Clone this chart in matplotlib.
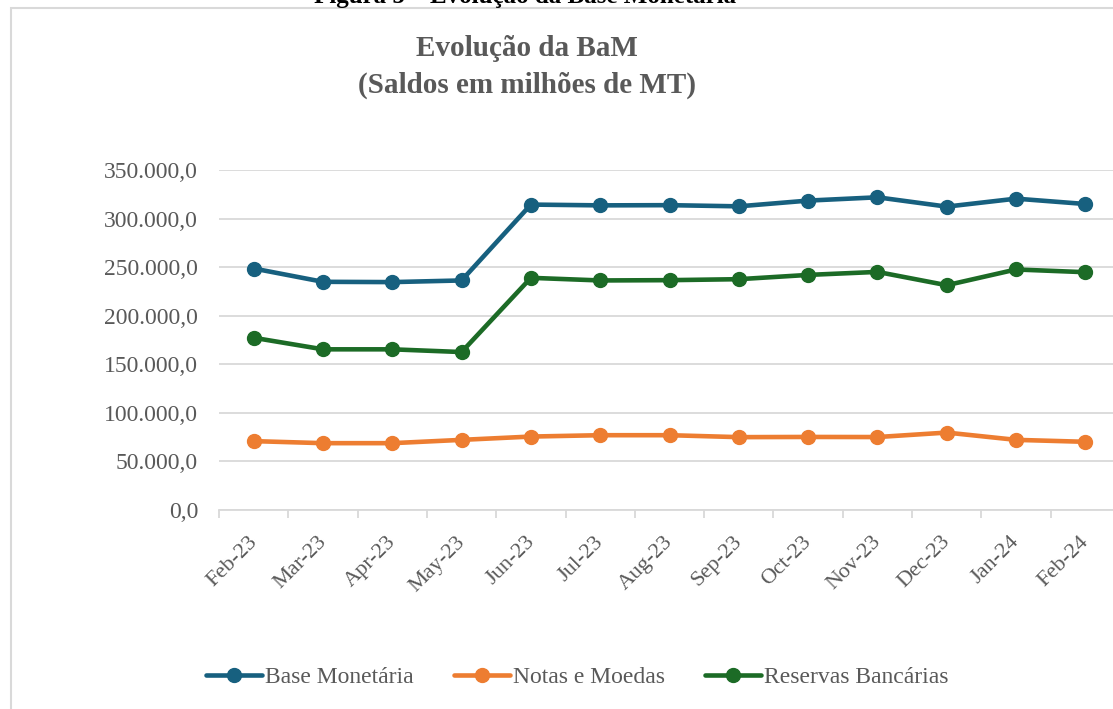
import matplotlib
matplotlib.use('Agg')
import matplotlib.pyplot as plt
import matplotlib.transforms as mtransforms
from matplotlib.ticker import FuncFormatter, FixedLocator
from matplotlib.patches import Rectangle

plt.rcParams['font.family'] = ['Liberation Serif', 'DejaVu Serif']

# data (milhoes de MT)
months = ["Feb-23", "Mar-23", "Apr-23", "May-23", "Jun-23", "Jul-23", "Aug-23",
          "Sep-23", "Oct-23", "Nov-23", "Dec-23", "Jan-24", "Feb-24"]
base_monetaria = [248600, 234900, 234600, 236300, 314400, 313600, 313800,
                  312600, 318500, 321900, 312300, 320500, 315000]
notas_moedas = [70900, 68800, 68800, 72200, 75600, 77000, 77000,
                75000, 75200, 75100, 79700, 72200, 70200]
reservas = [177300, 165400, 165400, 162600, 239000, 236300, 236600,
            237600, 242000, 245100, 231400, 247600, 244800]

grey = '#595959'
grid_c = '#d9d9d9'

fig = plt.figure(figsize=(11.13, 7.09), dpi=100)
W, H = 1113, 709

# outer chart frame (cut by the image edge)
fig.patches.append(Rectangle((11 / W, -0.1), 1.2, 1 - 8 / H + 0.1,
                             transform=fig.transFigure, fill=False,
                             edgecolor=grid_c, lw=1.5))

# caption, cut at the top as in the reference
fig.text(525 / W, 1 - 3 / H, "Figura 5 – Evolução da Base Monetária",
         ha='center', va='baseline', fontsize=18, fontweight='bold', color='black')

fig.text(527 / W, 1 - 49 / H, "Evolução da BaM", ha='center', va='center',
         fontsize=21, fontweight='bold', color=grey)
fig.text(527 / W, 1 - 85 / H, "(Saldos em milhões de MT)", ha='center', va='center',
         fontsize=21, fontweight='bold', color=grey)

ax = fig.add_axes([219 / W, 1 - 510 / H, 901 / W, 340 / H])
x = list(range(len(months)))

series = [(base_monetaria, "Base Monetária", '#17607f'),
          (notas_moedas, "Notas e Moedas", '#ed7d31'),
          (reservas, "Reservas Bancárias", '#1c6b26')]
for vals, name, col in series:
    ax.plot(x, vals, color=col, lw=3.3, marker='o', markersize=10,
            label=name, solid_capstyle='round')

ax.set_xlim(-0.5, len(months) - 0.5)
ax.set_ylim(0, 350000)
ax.set_yticks(range(0, 350001, 50000))
ax.yaxis.set_major_formatter(FuncFormatter(
    lambda v, p: f"{v:,.1f}".replace(',', 'X').replace('.', ',').replace('X', '.')))
ax.grid(axis='y', color=grid_c, lw=1.3)
ax.set_axisbelow(True)

for s in ['left', 'right', 'top']:
    ax.spines[s].set_visible(False)
ax.spines['bottom'].set_color(grid_c)
ax.spines['bottom'].set_linewidth(1.3)

ax.set_xticks(x)
ax.set_xticklabels(months, rotation=45, ha='right', rotation_mode='anchor')
ax.xaxis.set_minor_locator(FixedLocator([i - 0.5 for i in range(len(months) + 1)]))
ax.tick_params(axis='x', which='major', length=0, pad=14, labelsize=16, labelcolor=grey)
ax.tick_params(axis='x', which='minor', length=6, width=1.3, color=grid_c)
ax.tick_params(axis='y', length=0, pad=15, labelsize=17, labelcolor=grey)

shift = mtransforms.ScaledTranslation(-6 / 100, -3 / 100, fig.dpi_scale_trans)
for lab in ax.get_xticklabels():
    lab.set_transform(lab.get_transform() + shift)

leg = fig.legend(loc='center', bbox_to_anchor=(577 / W, 1 - 677 / H), ncol=3,
                 frameon=False, fontsize=17, handlelength=2.4, handletextpad=0.1,
                 columnspacing=1.7, numpoints=1)
for t in leg.get_texts():
    t.set_color(grey)

fig.savefig('out.png', dpi=100)
